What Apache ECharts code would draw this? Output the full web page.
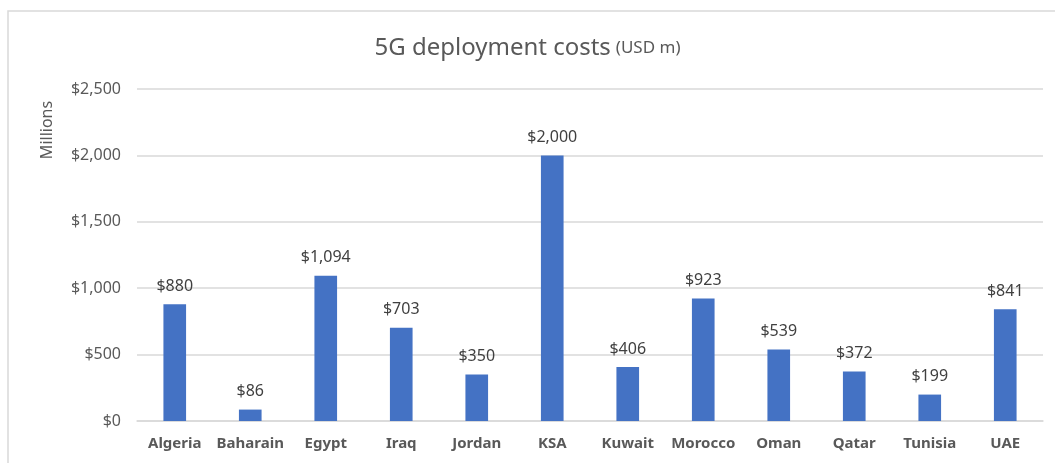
<!doctype html>
<html>
<head>
    <meta charset="utf-8">
    <script src="https://cdn.jsdelivr.net/npm/echarts@6/dist/echarts.min.js"></script>
</head>
<body style="width: 100%; height: 100%; margin: 0">
    <div id="container" style="width: 1055px; height: 463px"></div>
    <script type="text/javascript">
        var countries = ['Algeria', 'Baharain', 'Egypt', 'Iraq', 'Jordan', 'KSA', 'Kuwait', 'Morocco', 'Oman', 'Qatar', 'Tunisia', 'UAE'];
        var costs = [880, 86, 1094, 703, 350, 2000, 406, 923, 539, 372, 199, 841];
        var yTicks = [0, 500, 1000, 1500, 2000, 2500];

        var font = 'Noto Sans';
        function money(v) {
            return '$' + Number(v).toLocaleString('en-US');
        }

        var myChart = echarts.init(document.getElementById('container'));
        var option = {
            backgroundColor: '#fff',
            title: {
                text: '{a|5G deployment costs} {b|(USD m)}',
                left: 'center',
                top: 31,
                textStyle: {
                    fontWeight: 'normal',
                    rich: {
                        a: { fontFamily: font, fontSize: 24, fontWeight: 'normal', color: '#595959' },
                        b: { fontFamily: font, fontSize: 17, fontWeight: 'normal', color: '#595959' }
                    }
                }
            },
            graphic: [
                {
                    type: 'rect',
                    shape: { x: 8, y: 11, width: 1100, height: 500 },
                    style: { fill: 'none', stroke: '#d9d9d9', lineWidth: 1.5 },
                    silent: true
                },
                {
                    type: 'text',
                    x: 47, y: 130,
                    rotation: Math.PI / 2,
                    style: {
                        text: 'Millions',
                        font: '16px "Noto Sans"',
                        fill: '#595959',
                        align: 'center',
                        verticalAlign: 'middle'
                    }
                }
            ],
            grid: { left: 137, right: 12, top: 89, bottom: 42 },
            xAxis: {
                type: 'category',
                data: countries,
                axisTick: { show: false },
                axisLine: { lineStyle: { color: '#d9d9d9', width: 1.5 } },
                axisLabel: { interval: 0, fontFamily: font, fontSize: 15, fontWeight: 'bold', color: '#595959', margin: 15 }
            },
            yAxis: {
                type: 'value',
                min: yTicks[0],
                max: yTicks[yTicks.length - 1],
                interval: 500,
                axisLine: { show: false },
                axisTick: { show: false },
                splitLine: { lineStyle: { color: '#d9d9d9', width: 1.5 } },
                axisLabel: { fontFamily: font, fontSize: 16, color: '#595959', margin: 16, formatter: money }
            },
            series: [{
                type: 'bar',
                data: costs,
                barWidth: '30%',
                itemStyle: { color: '#4472C4' },
                label: {
                    show: true,
                    position: 'top',
                    distance: 10,
                    fontFamily: font,
                    fontSize: 16,
                    color: '#404040',
                    formatter: function (p) { return money(p.value); }
                }
            }]
        };
        myChart.setOption(option);
    </script>
</body>
</html>
